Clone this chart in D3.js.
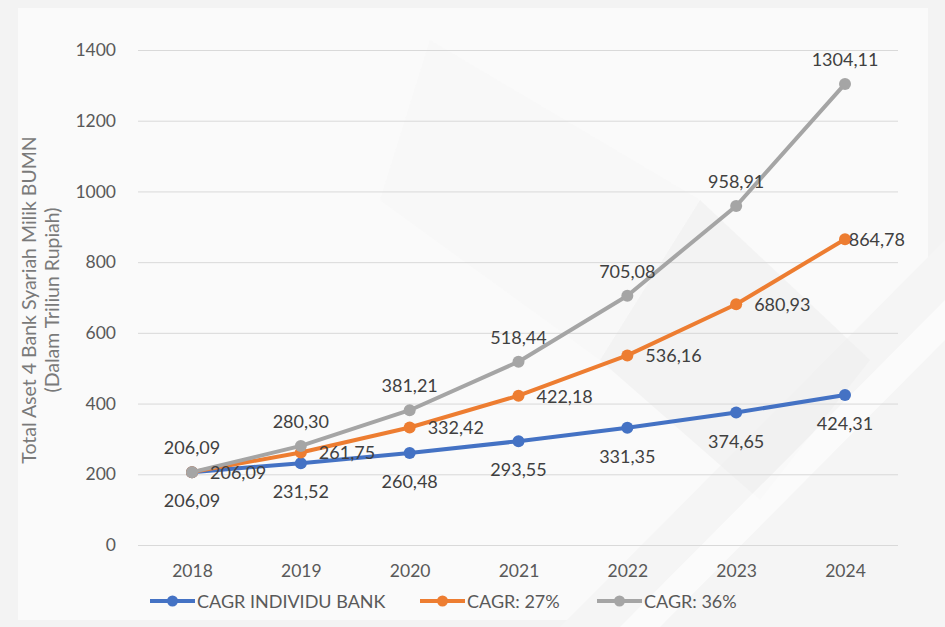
<!DOCTYPE html>
<html><head><meta charset="utf-8">
<script src="https://cdn.jsdelivr.net/npm/d3@7"></script>
<style>html,body{margin:0;padding:0;background:#fff;}svg{display:block;}</style>
</head><body>
<script>
const years = ["2018","2019","2020","2021","2022","2023","2024"];
const individu = [206.09, 231.52, 260.48, 293.55, 331.35, 374.65, 424.31];
const cagr27 = [206.09, 261.75, 332.42, 422.18, 536.16, 680.93, 864.78];
const cagr36 = [206.09, 280.30, 381.21, 518.44, 705.08, 958.91, 1304.11];
const yTicks = [0, 200, 400, 600, 800, 1000, 1200, 1400];
const seriesNames = ["CAGR INDIVIDU BANK", "CAGR: 27%", "CAGR: 36%"];

const W = 945, H = 627;
const font = "Lato, 'Open Sans', sans-serif";
const svg = d3.select("body").append("svg").attr("width", W).attr("height", H);

// background
svg.append("rect").attr("width", W).attr("height", H).attr("fill", "#f3f3f3");
svg.append("rect").attr("x", 18).attr("y", 8).attr("width", 910).attr("height", 612).attr("fill", "#fafafa");
const bg = svg.append("g");
bg.append("polygon").attr("points", "560,627 945,240 945,627").attr("fill", "#f5f5f5");
bg.append("polygon").attr("points", "700,200 870,360 760,500 600,360").attr("fill", "#eeeeee").attr("opacity", 0.6);
bg.append("polygon").attr("points", "620,627 945,300 945,340 660,627").attr("fill", "#ffffff").attr("opacity", 0.6);
bg.append("polygon").attr("points", "430,40 700,200 600,360 380,200").attr("fill", "#f7f7f7").attr("opacity", 0.6);

const x = d3.scalePoint().domain(years).range([192, 845]);
const y = d3.scaleLinear().domain([0, 1400]).range([545, 50]);

// gridlines + y axis
const yAxis = d3.axisLeft(y).tickValues(yTicks).tickSize(-(898 - 138)).tickPadding(22).tickFormat(d3.format("d"));
const gy = svg.append("g").attr("transform", "translate(138,0)").call(yAxis);
gy.select(".domain").remove();
gy.selectAll(".tick line").attr("stroke", "#d9d9d9").attr("stroke-width", 1);
gy.selectAll(".tick text").attr("fill", "#595959").attr("font-size", 17.5).attr("font-family", font);

const xAxis = d3.axisBottom(x).tickSize(0).tickPadding(20);
const gx = svg.append("g").attr("transform", "translate(0,545)").call(xAxis);
gx.select(".domain").remove();
gx.selectAll(".tick text").attr("fill", "#595959").attr("font-size", 17.5).attr("font-family", font);

// y title
const yt = svg.append("text").attr("transform", "translate(36,300) rotate(-90)")
  .attr("text-anchor", "middle").attr("fill", "#7a7a7a").attr("font-size", 19.5).attr("font-family", font);
yt.append("tspan").attr("x", 0).attr("dy", 0).text("Total Aset 4 Bank Syariah Milik BUMN");
yt.append("tspan").attr("x", 0).attr("dy", 23).text("(Dalam Triliun Rupiah)");

const series = [
  {name: seriesNames[0], values: individu, color: "#4472C4", pos: "below"},
  {name: seriesNames[1], values: cagr27, color: "#ED7D31", pos: "right"},
  {name: seriesNames[2], values: cagr36, color: "#A5A5A5", pos: "above"}
];
const line = d3.line().x((d, i) => x(years[i])).y(d => y(d));
const fmt = v => v.toFixed(2).replace(".", ",");

series.forEach(s => {
  svg.append("path").datum(s.values).attr("d", line).attr("fill", "none")
    .attr("stroke", s.color).attr("stroke-width", 4).attr("stroke-linejoin", "round").attr("stroke-linecap", "round");
  svg.selectAll(null).data(s.values).enter().append("circle")
    .attr("cx", (d, i) => x(years[i])).attr("cy", d => y(d)).attr("r", 6).attr("fill", s.color);
});

// data labels
series.forEach(s => {
  s.values.forEach((v, i) => {
    const px = x(years[i]), py = y(v);
    const t = svg.append("text").attr("fill", "#404040").attr("font-size", 18).attr("font-family", font)
      .attr("dominant-baseline", "central").text(fmt(v));
    if (s.pos === "above") { t.attr("x", px).attr("y", py - 25).attr("text-anchor", "middle"); }
    else if (s.pos === "below") { t.attr("x", px).attr("y", py + 28).attr("text-anchor", "middle"); }
    else {
      const w = t.node().getComputedTextLength();
      const lx = Math.min(px + 18, 905 - w);
      t.attr("x", lx).attr("y", py).attr("text-anchor", "start");
    }
  });
});

// legend
const legendX = [150, 420, 597];
series.forEach((s, i) => {
  const g = svg.append("g").attr("transform", `translate(${legendX[i]},601)`);
  g.append("line").attr("x1", 0).attr("x2", 45).attr("y1", 0).attr("y2", 0).attr("stroke", s.color).attr("stroke-width", 4);
  g.append("circle").attr("cx", 22.5).attr("cy", 0).attr("r", 5.5).attr("fill", s.color);
  g.append("text").attr("x", 47).attr("y", 0).attr("dominant-baseline", "central")
    .attr("fill", "#595959").attr("font-size", 18).attr("font-family", font).text(s.name);
});
</script>
</body></html>
